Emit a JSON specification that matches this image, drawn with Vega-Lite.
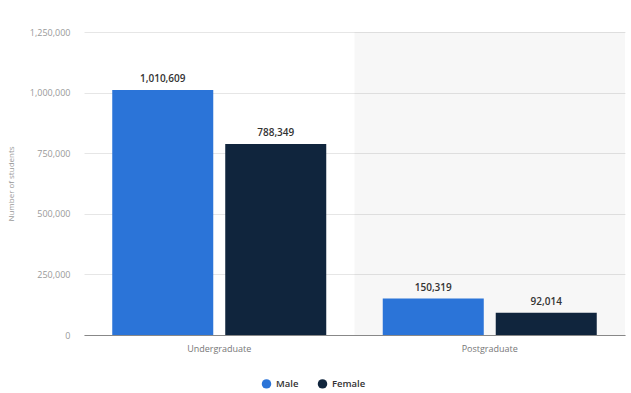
{
  "$schema": "https://vega.github.io/schema/vega-lite/v6.json",
  "width": 541,
  "height": 303,
  "autosize": {"type": "none"},
  "padding": {"left": 84, "top": 32, "right": 6, "bottom": 58},
  "background": "white",
  "config": {
    "view": {"stroke": null},
    "font": "Open Sans"
  },
  "data": {
    "values": [
      {"level": "Undergraduate", "gender": "Male", "students": 1010609, "shade": 0},
      {"level": "Undergraduate", "gender": "Female", "students": 788349, "shade": 0},
      {"level": "Postgraduate", "gender": "Male", "students": 150319, "shade": 1},
      {"level": "Postgraduate", "gender": "Female", "students": 92014, "shade": 1}
    ]
  },
  "encoding": {
    "x": {
      "field": "level",
      "type": "nominal",
      "sort": ["Undergraduate", "Postgraduate"],
      "scale": {"paddingInner": 0, "paddingOuter": 0},
      "axis": {
        "title": null,
        "labelAngle": 0,
        "labelColor": "#777777",
        "labelFontSize": 9,
        "labelPadding": 9,
        "domainColor": "#888888",
        "domainWidth": 1.2,
        "ticks": false
      }
    }
  },
  "layer": [
    {
      "transform": [{"filter": "datum.shade == 1 && datum.gender == 'Male'"}],
      "mark": {"type": "rect", "color": "#000000", "opacity": 0.03},
      "encoding": {
        "y": {"datum": 1250000, "type": "quantitative"},
        "y2": {"datum": 0}
      }
    },
    {
      "mark": {"type": "bar"},
      "encoding": {
        "xOffset": {
          "field": "gender",
          "type": "nominal",
          "sort": ["Male", "Female"],
          "scale": {"paddingInner": 0.106, "paddingOuter": 0.25}
        },
        "y": {
          "field": "students",
          "type": "quantitative",
          "scale": {"domain": [0, 1250000], "nice": false},
          "axis": {
            "title": "Number of students",
            "titleFontSize": 8,
            "titleFontWeight": "normal",
            "titleColor": "#999999",
            "titlePadding": 14,
            "values": [0, 250000, 500000, 750000, 1000000, 1250000],
            "labelExpr": "format(datum.value, ',')",
            "labelColor": "#999999",
            "labelFontSize": 9,
            "labelPadding": 14,
            "domain": false,
            "ticks": false,
            "grid": true,
            "gridColor": "#e6e6e6",
            "gridWidth": 1
          }
        },
        "color": {
          "field": "gender",
          "type": "nominal",
          "sort": ["Male", "Female"],
          "scale": {"domain": ["Male", "Female"], "range": ["#2b74d8", "#10253d"]},
          "legend": {
            "title": null,
            "orient": "none",
            "direction": "horizontal",
            "legendX": 177,
            "legendY": 346,
            "symbolType": "circle",
            "symbolSize": 90,
            "labelFontSize": 9.5,
            "labelColor": "#333333",
            "labelFontWeight": 600,
            "columnPadding": 18
          }
        }
      }
    },
    {
      "mark": {"type": "text", "baseline": "bottom", "dy": -6, "fontSize": 10, "color": "#333333", "fontWeight": 600},
      "encoding": {
        "xOffset": {
          "field": "gender",
          "type": "nominal",
          "sort": ["Male", "Female"],
          "scale": {"paddingInner": 0.106, "paddingOuter": 0.25}
        },
        "y": {"field": "students", "type": "quantitative"},
        "text": {"field": "students", "type": "quantitative", "format": ","}
      }
    }
  ]
}
